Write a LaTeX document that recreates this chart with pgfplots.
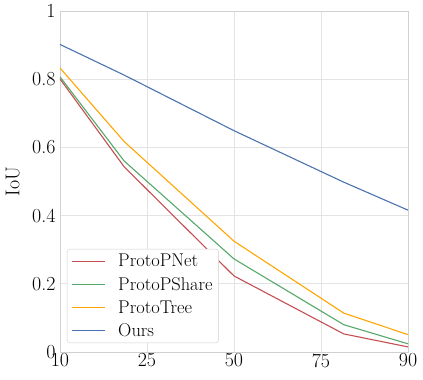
\documentclass[border=0pt]{standalone}
\usepackage{fontspec}
\usepackage{pgfplots}
\pgfplotsset{compat=1.18}
\definecolor{cpnet}{HTML}{C44E52}
\definecolor{cshare}{HTML}{55A868}
\definecolor{ctree}{HTML}{FFA500}
\definecolor{cours}{HTML}{4C72B0}
\definecolor{gridgray}{HTML}{E3E3E3}
\definecolor{framegray}{HTML}{D0D0D0}
\begin{document}
\begin{tikzpicture}
\begin{axis}[
  scale only axis,
  width=348bp, height=341bp,
  xmin=10, xmax=90, ymin=0, ymax=1,
  % logit scale on x
  x coord trafo/.code={\pgfmathparse{ln(#1/(100-#1))}},
  xtick={10,25,50,75,90},
  xticklabels={10,25,50,75,90},
  ytick={0,0.2,0.4,0.6,0.8,1},
  yticklabels={0,0.2,0.4,0.6,0.8,1},
  grid=major,
  major grid style={gridgray, line width=0.8pt},
  axis line style={framegray, line width=0.8pt},
  major tick length=0pt,
  tick label style={font=\fontsize{20}{22}\selectfont},
  xticklabel style={yshift=2bp},
  yticklabel style={xshift=-1bp},
  ylabel={IoU},
  ylabel style={font=\fontsize{20}{22}\selectfont, at={(rel axis cs:-0.115,0.5)},
    anchor=south, inner sep=0pt},
  legend style={at={(0.02,0.026)}, anchor=south west,
    draw=framegray, rounded corners=3pt, fill=white,
    font=\fontsize{18.5}{21}\selectfont, row sep=5bp, inner xsep=4bp, inner ysep=3bp,
    /tikz/every odd column/.append style={column sep=11bp}},
  legend cell align=left,
  legend image code/.code={\draw[#1] (0bp,0bp) -- (33bp,0bp);},
]
\addplot[cpnet, line width=1.1pt] coordinates {(10,0.801) (20,0.543) (50,0.223) (80,0.053) (90,0.015)};
\addlegendentry{ProtoPNet}
\addplot[cshare, line width=1.1pt] coordinates {(10,0.807) (20,0.560) (50,0.273) (80,0.080) (90,0.024)};
\addlegendentry{ProtoPShare}
\addplot[ctree, line width=1.1pt] coordinates {(10,0.833) (20,0.617) (50,0.325) (80,0.114) (90,0.051)};
\addlegendentry{ProtoTree}
\addplot[cours, line width=1.1pt] coordinates {(10,0.902) (20,0.812) (50,0.649) (80,0.498) (90,0.416)};
\addlegendentry{Ours}
\coordinate (A) at (rel axis cs:0,0);
\coordinate (B) at (rel axis cs:1,1);
\end{axis}
\pgfresetboundingbox
\path ([shift={(-60bp,-28bp)}]A) rectangle ([shift={(15bp,11bp)}]B);
\end{tikzpicture}
\end{document}
